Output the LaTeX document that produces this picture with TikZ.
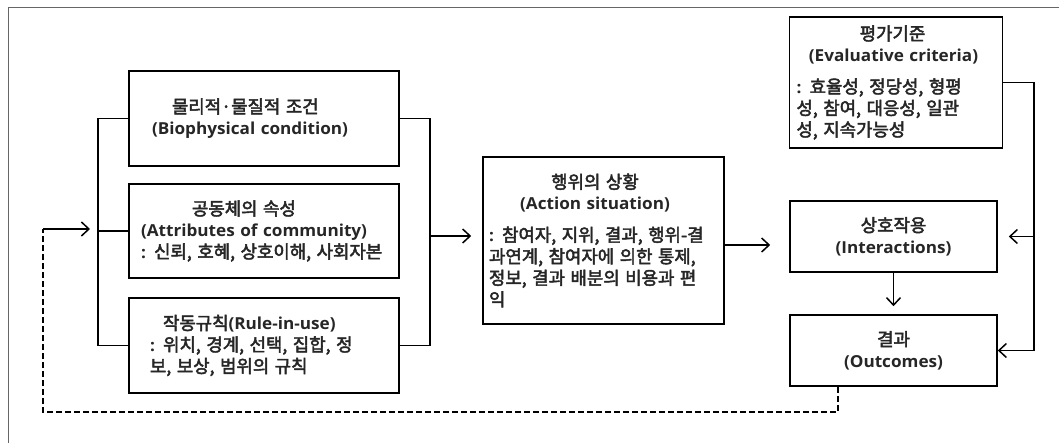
\documentclass[tikz,border=0pt]{standalone}
\usepackage{fontspec}
\setmainfont{Open Sans}
\newfontfamily\lat{Open Sans}[FakeStretch=1.04]
\newfontfamily\kr{Noto Sans CJK KR}[Scale=1.08, FakeBold=2.6]
\newcommand\KRt[1]{{\kr\mdseries #1}}
\usetikzlibrary{arrows.meta}
\begin{document}
\begin{tikzpicture}[x=1pt,y=-1pt,
  box/.style={draw, line width=1.6pt, inner sep=0pt, align=left, anchor=center,
    font=\lat\bfseries\fontsize{16.5}{21.5}\selectfont, text=black!85},
  conn/.style={line width=1.6pt},
  arr/.style={conn, -{Straight Barb[length=7.5pt,width=14pt,line width=1.5pt]}},
  fbline/.style={line width=1.6pt, dash pattern=on 6pt off 3pt}
]
\fill[white] (0,0) rectangle (1059,443);
\useasboundingbox (0,0) rectangle (1059,443);
\draw[black!60, line width=0.9pt] (8,443) -- (8,7) -- (1059,7);

% left group
\node[box, minimum width=270, minimum height=95, text width=224] (b1) at (264,118.5)
  {\mbox{\hspace*{20pt}\KRt{물리적·물질적 조건}}\\\mbox{(Biophysical condition)}};
\node[box, minimum width=270, minimum height=94, text width=246] (b2) at (264,231)
  {\mbox{\hspace*{51pt}\KRt{공동체의 속성}}\\\mbox{(Attributes of community)}\\\mbox{: \KRt{신뢰, 호혜, 상호이해, 사회자본}}};
\node[box, minimum width=270, minimum height=95, text width=228] (b3) at (264,345.5)
  {\mbox{\hspace*{13pt}\KRt{작동규칙}(Rule-in-use)}\\\mbox{: \KRt{위치, 경계, 선택, 집합, 정}}\\\mbox{\KRt{보, 보상, 범위의 규칙}}};

% action situation
\node[box, minimum width=241, minimum height=167, text width=229] (act) at (603.5,240.5)
  {\makebox[212pt][c]{\KRt{행위의 상황}}\\\makebox[212pt][c]{(Action situation)}\\[10pt]
   \mbox{: \KRt{참여자, 지위, 결과, 행위-결}}\\\mbox{\KRt{과연계, 참여자에 의한 통제,}}\\\mbox{\KRt{정보, 결과 배분의 비용과 편}}\\\mbox{\KRt{익}}};

% right column
\node[box, minimum width=213, minimum height=131, text width=199] (eval) at (896,82.5)
  {\makebox[192pt][c]{\KRt{평가기준}}\\\makebox[194pt][c]{(Evaluative criteria)}\\[10pt]
   \mbox{: \KRt{효율성, 정당성, 형평}}\\\mbox{\KRt{성, 참여, 대응성, 일관}}\\\mbox{\KRt{성, 지속가능성}}};
\node[box, minimum width=207, minimum height=71, align=center] (inter) at (893.5,236.5)
  {\KRt{상호작용}\\(Interactions)};
\node[box, minimum width=207, minimum height=71, align=center] (out) at (893.5,350.5)
  {\KRt{결과}\\(Outcomes)};

% brackets
\coordinate (L) at (98,0);
\coordinate (R) at (430,0);
\coordinate (E) at (1034,0);
\draw[conn] (b1.west) -- (b1.west -| L) -- (b3.west -| L) -- (b3.west);
\draw[conn] (b2.west) -- (b2.west -| L);
\draw[conn] (b1.east) -- (b1.east -| R) -- (b3.east -| R) -- (b3.east);
\coordinate (rin) at (430,236);
\draw[arr, shorten >=11pt] (rin) -- (rin -| act.west);

\draw[arr, shorten >=19pt] ([yshift=-4.5pt]act.east) -- ([yshift=-4.5pt]act.east -| inter.west);
\draw[arr, shorten >=8pt] (inter.south) -- (out.north);

\draw[arr] (eval.east) -- (eval.east -| E) -- (E |- out.east) -- (out.east);
\draw[arr, shorten >=11pt] (E |- inter.east) -- (inter.east);

% feedback
\coordinate (d1) at (838,412);
\coordinate (d2) at (43,412);
\coordinate (d3) at (43,229);
\coordinate (d4) at (90,229);
\draw[fbline] (out.south -| d1) -- (d1) -- (d2) -- (d3);
\draw[arr] (d3) -- (d4);
\end{tikzpicture}
\end{document}
